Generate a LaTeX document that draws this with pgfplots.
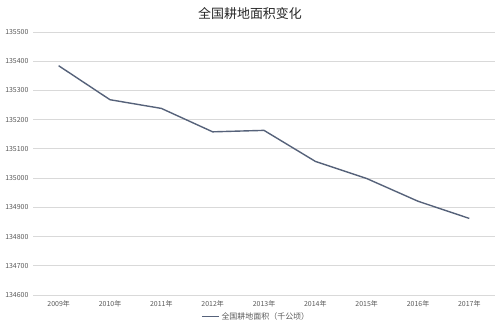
\documentclass[border=0pt]{standalone}
\usepackage{pgfplots}
\pgfplotsset{compat=1.18}
\usepackage{fontspec}
\setmainfont{Noto Sans CJK SC}
\definecolor{gridc}{HTML}{D9D9D9}
\definecolor{linec}{HTML}{56627A}
\definecolor{tickc}{HTML}{595959}
\begin{document}
\begin{tikzpicture}[x=1bp,y=1bp]
\path[use as bounding box] (0,0) rectangle (500,322);
\begin{axis}[
  at={(33bp,27bp)}, anchor=south west,
  scale only axis, width=462bp, height=263bp,
  xmin=-0.5, xmax=8.5, ymin=134600, ymax=135500,
  ytick={134600,134700,...,135500},
  scaled y ticks=false,
  yticklabel style={/pgf/number format/fixed, /pgf/number format/precision=0, xshift=-1bp},
  xtick={0,...,8},
  xticklabels={2009年,2010年,2011年,2012年,2013年,2014年,2015年,2016年,2017年},
  ymajorgrids, grid style={gridc, line width=1bp},
  axis x line*=bottom, axis y line*=left,
  x axis line style={gridc, line width=1bp, -},
  y axis line style={draw=none},
  major tick length=0,
  tick label style={font=\fontsize{7}{8}\selectfont, text=tickc},
  /pgf/number format/assume math mode=true,
  /pgf/number format/1000 sep={},
  xticklabel style={yshift=-2bp},
  legend style={at={(0.483,-0.082)}, anchor=center, draw=none, font=\fontsize{8}{9}\selectfont, text=tickc, fill=none},
  clip=false,
]
\addplot[linec, line width=1.4bp, mark=none] coordinates {
(0,135384.6) (1,135268.3) (2,135238.6) (3,135158.4) (4,135163.4)
(5,135057.3) (6,134998.7) (7,134920.9) (8,134862)
};
\addlegendentry{全国耕地面积（千公顷）}
\end{axis}
\node[font=\fontsize{13}{15}\selectfont, text=black!85] at (250,308) {全国耕地面积变化};
\end{tikzpicture}
\end{document}
